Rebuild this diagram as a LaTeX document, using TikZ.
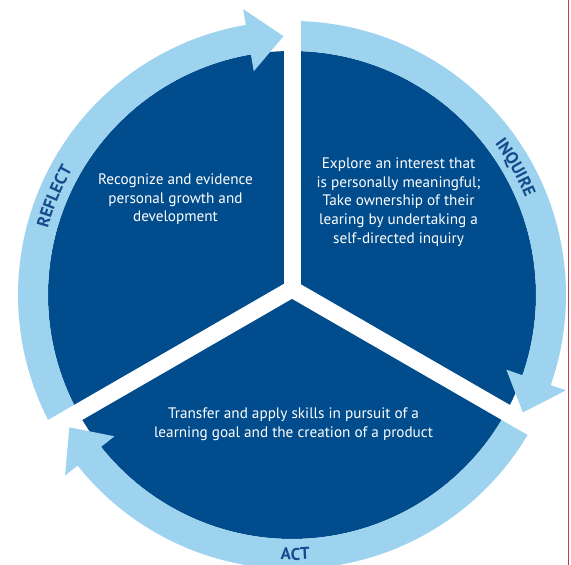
\documentclass[tikz,border=0pt]{standalone}
\usepackage{fontspec}
\setmainfont{PT Sans}
\usetikzlibrary{calc,decorations.text}
\definecolor{darkblue}{RGB}{0,76,140}
\definecolor{lightblue}{RGB}{157,211,239}
\definecolor{lblblue}{RGB}{20,75,140}
\definecolor{edgered}{RGB}{190,60,60}
\newcommand\ringseg[2]{\fill[ringfill] ($(C)+(#1:274)$) arc[start angle=#1, end angle=#2, radius=274] -- ($(C)+(#2:244)$) arc[start angle=#2, end angle=#1, radius=244] -- cycle;}
\newcommand\arrowhd[2]{\fill[ringfill] ($(C)+(#1:290)$) -- ($(C)+(#2:259)$) -- ($(C)+(#1:227)$) -- cycle;}
\newcommand\gapband[1]{\fill[gapfill] ($(J)+(#1+90:8.5)$) -- ($(J)+(#1+90:8.5)+(#1:330)$) -- ($(J)+(#1-90:8.5)+(#1:330)$) -- ($(J)+(#1-90:8.5)$) -- cycle;}
\newcommand\lblfont{\fontsize{17}{17}\selectfont\bfseries}
\begin{document}
\begin{tikzpicture}[x=1pt,y=1pt,
  ringfill/.style={fill=lightblue},
  gapfill/.style={fill=white},
  bodytext/.style={text=white, align=center, font=\fontsize{15.2}{18.6}\selectfont, inner sep=0pt},
  lbl/.style={decorate, decoration={text along path, text align=center, text color=lblblue}},
]
\useasboundingbox (0,0) rectangle (571,565);
\clip (0,0) rectangle (571,565);
\coordinate (C) at (292,270);
\coordinate (J) at (292,276);
% dark disc
\fill[darkblue] (C) circle[radius=244];
% ring shafts
\ringseg{208.5}{99.5}
\ringseg{88.5}{-19.4}
\ringseg{331}{218.3}
% white gaps
\gapband{90}
\gapband{210}
\gapband{330}
\fill[gapfill] (J) circle[radius=8.5];
% arrow heads
\arrowhd{99.7}{91.88}
\arrowhd{-19.2}{-26.97}
\arrowhd{218.5}{210.73}
% ring labels
\path[lbl, decoration={text={|\lblfont|REFLECT}}] ($(C)+(177.5:253)$) arc[start angle=177.5, end angle=137.5, radius=253];
\path[lbl, decoration={text={|\lblfont|INQUIRE}}] ($(C)+(49.7:253)$) arc[start angle=49.7, end angle=9.7, radius=253];
\path[lbl, decoration={text={|\lblfont|ACT}}] ($(C)+(250.7:265)$) arc[start angle=250.7, end angle=290.7, radius=265];
% texts
\node[bodytext] (reflecttext) at (175.5,365.7) {Recognize and evidence\\personal growth and\\development};
\node[bodytext] (inquiretext) at (398.5,363) {Explore an interest that\\is personally meaningful;\\Take ownership of their\\learing by undertaking a\\self-directed inquiry};
\node[bodytext] (acttext) at (293.5,141) {Transfer and apply skills in pursuit of a\\learning goal and the creation of a product};
% right edge line
\draw[edgered, line width=1pt] (568.8,0) -- (568.8,565);
\end{tikzpicture}
\end{document}
